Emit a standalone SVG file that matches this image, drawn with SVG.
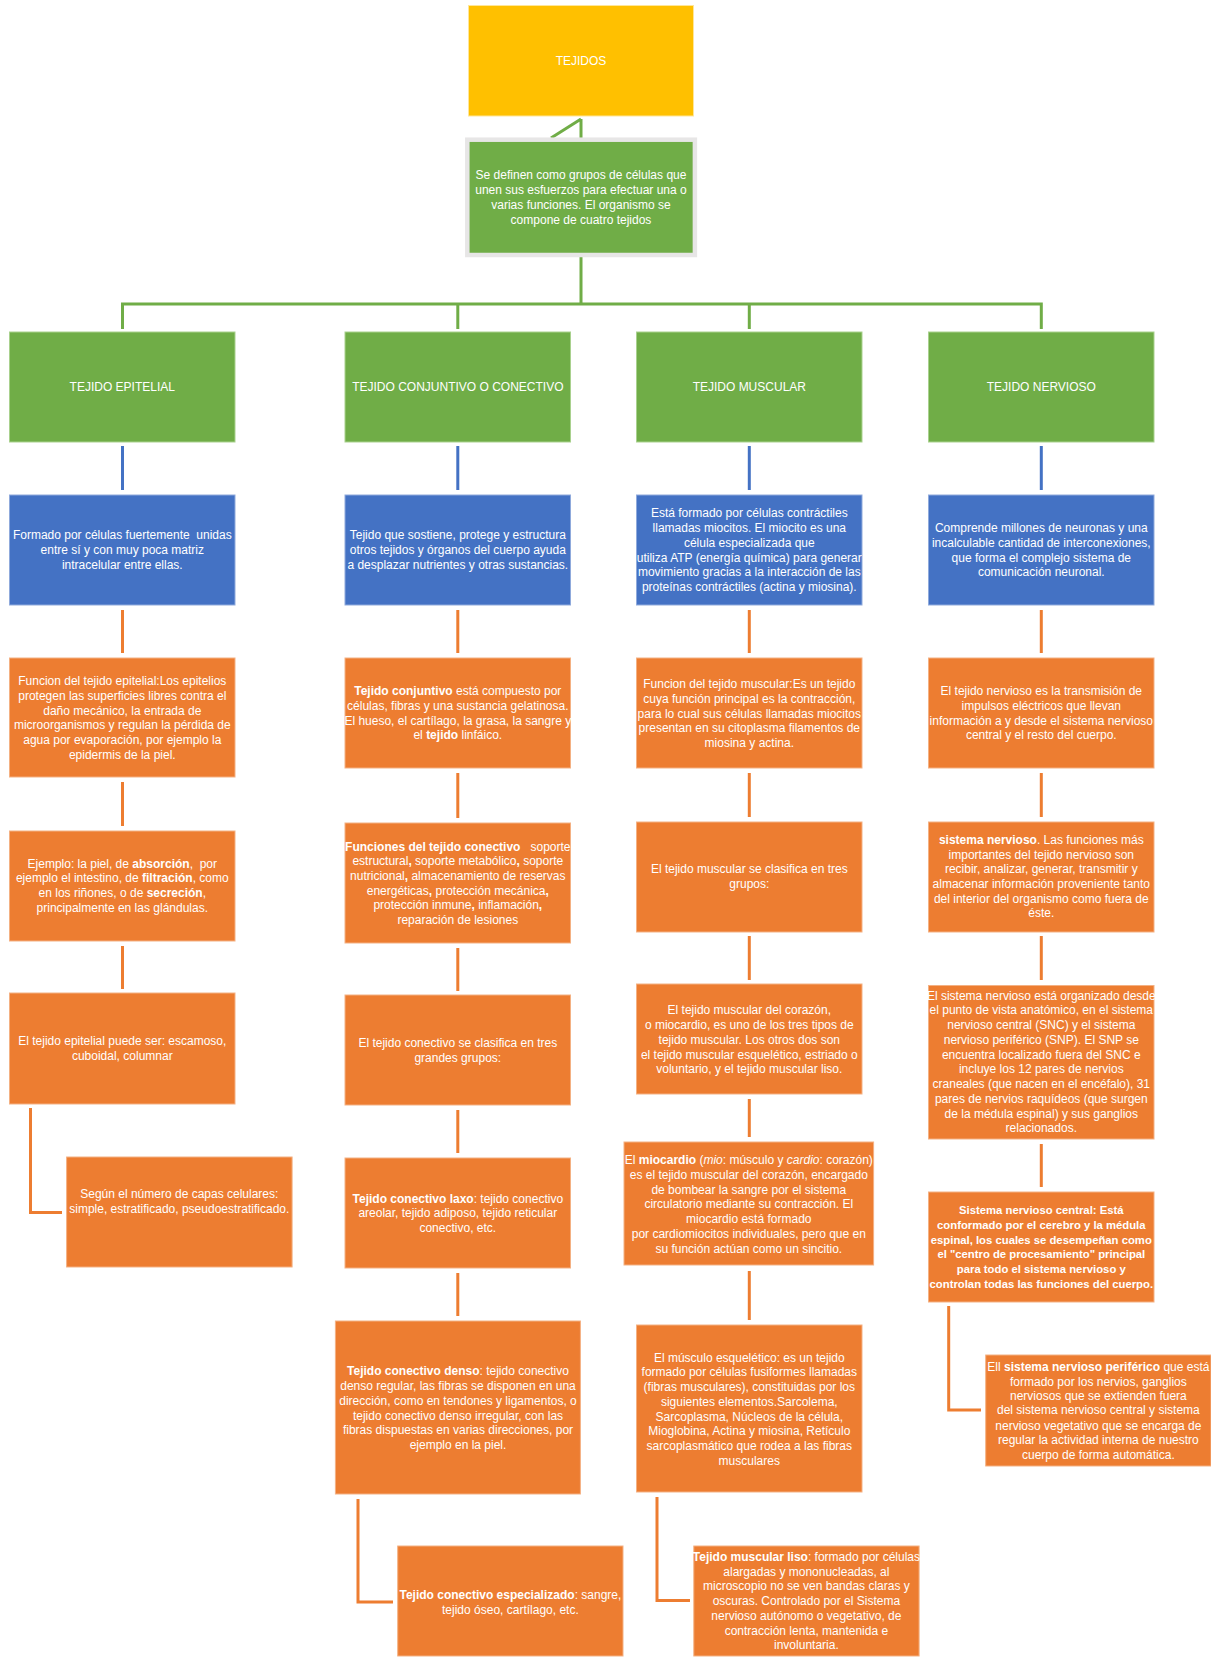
<svg xmlns="http://www.w3.org/2000/svg" width="1211" height="1658" viewBox="0 0 1211 1658">
<style>
.y{fill:#FFC000;stroke:#FFE699;stroke-width:1}
.g{fill:#70AD47;stroke:#A9D18E;stroke-width:1}
.b{fill:#4472C4;stroke:#8FAADC;stroke-width:1}
.o{fill:#ED7D31;stroke:#F4B183;stroke-width:1}
.t{fill:#FFFFFF;font-family:"Liberation Sans",Arial,sans-serif;font-size:12px;text-anchor:middle}
.cg{stroke:#70AD47;stroke-width:3;fill:none}
.cb{stroke:#4472C4;stroke-width:3;fill:none}
.co{stroke:#ED7D31;stroke-width:3;fill:none}
.bd{font-weight:bold}
.it{font-style:italic}
.sm{font-size:11.3px}
</style>
<rect width="1211" height="1658" fill="#FFFFFF"/>
<g id="connectors">
<path class="cg" d="M581 119 V140 M581 119 L551 138"/>
<path class="cg" d="M581 257 V304 M122.5 304 H1041.5 M122.5 302.5 V329 M457.8 302.5 V329 M749.3 302.5 V329 M1041.3 302.5 V329"/>
<path class="cb" d="M122.5 446 V490 M457.8 446 V490 M749.3 446 V490 M1041.3 446 V490"/>
<path class="co" d="M122.5 610 V653 M457.8 610 V653 M749.3 610 V653 M1041.3 610 V653"/>
<path class="co" d="M122.5 782 V826 M122.5 946 V989 M30.5 1108 V1212.5 H62"/>
<path class="co" d="M457.8 773 V818 M457.8 948 V991 M457.8 1110 V1153 M457.8 1273 V1316 M358 1499 V1602 H393"/>
<path class="co" d="M749.3 773 V817 M749.3 936 V980 M749.3 1099 V1137 M749.3 1271 V1320 M657 1497 V1600.5 H690"/>
<path class="co" d="M1041.3 773 V817 M1041.3 936 V980 M1041.3 1144 V1187 M948.7 1306 V1410 H981"/>
</g>
<g id="n-tejidos"><rect class="y" x="468.5" y="5.5" width="225" height="110.5"/><text class="t" x="581" y="64.5">TEJIDOS</text></g>
<g id="n-definicion"><rect x="467.3" y="139.7" width="227.6" height="115.3" fill="#70AD47" stroke="#E7E6E6" stroke-width="4.5"/>
<text class="t"><tspan x="581" y="179.4">Se definen como grupos de células que</tspan><tspan x="581" y="194.1">unen sus esfuerzos para efectuar una o</tspan><tspan x="581" y="208.8">varias funciones. El organismo se</tspan><tspan x="581" y="223.5">compone de cuatro tejidos</tspan></text></g>

<g id="n-epitelial"><rect class="g" x="9.5" y="332" width="225.5" height="110"/><text class="t" x="122.3" y="391">TEJIDO EPITELIAL</text></g>
<g id="n-conjuntivo"><rect class="g" x="345" y="332" width="225.5" height="110"/><text class="t" x="457.8" y="391">TEJIDO CONJUNTIVO O CONECTIVO</text></g>
<g id="n-muscular"><rect class="g" x="636.5" y="332" width="225.5" height="110"/><text class="t" x="749.3" y="391">TEJIDO MUSCULAR</text></g>
<g id="n-nervioso"><rect class="g" x="928.5" y="332" width="225.5" height="110"/><text class="t" x="1041.3" y="391">TEJIDO NERVIOSO</text></g>

<g id="n-epi-def"><rect class="b" x="9.5" y="495" width="225.5" height="110"/>
<text class="t"><tspan x="122.3" y="539.4">Formado por células fuertemente&#160; unidas</tspan><tspan x="122.3" y="554.4">entre sí y con muy poca matriz</tspan><tspan x="122.3" y="569.4">intracelular entre ellas.</tspan></text></g>
<g id="n-con-def"><rect class="b" x="345" y="495" width="225.5" height="110"/>
<text class="t"><tspan x="457.8" y="539.4">Tejido que sostiene, protege y estructura</tspan><tspan x="457.8" y="554.4">otros tejidos y órganos del cuerpo ayuda</tspan><tspan x="457.8" y="569.4">a desplazar nutrientes y otras sustancias.</tspan></text></g>
<g id="n-mus-def"><rect class="b" x="636.5" y="495" width="225.5" height="110"/>
<text class="t"><tspan x="749.3" y="517.1">Está formado por células contráctiles</tspan><tspan x="749.3" y="532">llamadas miocitos. El miocito es una</tspan><tspan x="749.3" y="546.9">célula especializada que</tspan><tspan x="749.3" y="561.8">utiliza ATP (energía química) para generar</tspan><tspan x="749.3" y="576.4">movimiento gracias a la interacción de las</tspan><tspan x="749.3" y="591.1">proteínas contráctiles (actina y miosina).</tspan></text></g>
<g id="n-ner-def"><rect class="b" x="928.5" y="495" width="225.5" height="110"/>
<text class="t"><tspan x="1041.3" y="532">Comprende millones de neuronas y una</tspan><tspan x="1041.3" y="546.9">incalculable cantidad de interconexiones,</tspan><tspan x="1041.3" y="561.8">que forma el complejo sistema de</tspan><tspan x="1041.3" y="576.4">comunicación neuronal.</tspan></text></g>

<g id="n-epi-funcion"><rect class="o" x="9.5" y="658" width="225.5" height="119"/>
<text class="t"><tspan x="122.3" y="685.1">Funcion del tejido epitelial:Los epitelios</tspan><tspan x="122.3" y="700.1">protegen las superficies libres contra el</tspan><tspan x="122.3" y="715.1">daño mecánico, la entrada de</tspan><tspan x="122.3" y="729.4">microorganismos y regulan la pérdida de</tspan><tspan x="122.3" y="744.4">agua por evaporación, por ejemplo la</tspan><tspan x="122.3" y="759.4">epidermis de la piel.</tspan></text></g>
<g id="n-con-compuesto"><rect class="o" x="345" y="658" width="225.5" height="110"/>
<text class="t"><tspan x="457.8" y="695.1"><tspan class="bd">Tejido conjuntivo</tspan> está compuesto por</tspan><tspan x="457.8" y="710.1">células, fibras y una sustancia gelatinosa.</tspan><tspan x="457.8" y="725.1">El hueso, el cartílago, la grasa, la sangre y</tspan><tspan x="457.8" y="739.4">el <tspan class="bd">tejido</tspan> linfáico.</tspan></text></g>
<g id="n-mus-funcion"><rect class="o" x="636.5" y="658" width="225.5" height="110"/>
<text class="t"><tspan x="749.3" y="687.7">Funcion del tejido muscular:Es un tejido</tspan><tspan x="749.3" y="702.9">cuya función principal es la contracción,</tspan><tspan x="749.3" y="717.7">para lo cual sus células llamadas miocitos</tspan><tspan x="749.3" y="732.4">presentan en su citoplasma filamentos de</tspan><tspan x="749.3" y="747.1">miosina y actina.</tspan></text></g>
<g id="n-ner-transmision"><rect class="o" x="928.5" y="658" width="225.5" height="110"/>
<text class="t"><tspan x="1041.3" y="695.1">El tejido nervioso es la transmisión de</tspan><tspan x="1041.3" y="710.1">impulsos eléctricos que llevan</tspan><tspan x="1041.3" y="725.1">información a y desde el sistema nervioso</tspan><tspan x="1041.3" y="739.4">central y el resto del cuerpo.</tspan></text></g>

<g id="n-epi-ejemplo"><rect class="o" x="9.5" y="831" width="225.5" height="110"/>
<text class="t"><tspan x="122.3" y="868.4">Ejemplo: la piel, de <tspan class="bd">absorción</tspan>,&#160; por</tspan><tspan x="122.3" y="882.4">ejemplo el intestino, de <tspan class="bd">filtración</tspan>, como</tspan><tspan x="122.3" y="897.4">en los riñones, o de <tspan class="bd">secreción</tspan>,</tspan><tspan x="122.3" y="912.1">principalmente en las glándulas.</tspan></text></g>
<g id="n-con-funciones"><rect class="o" x="345" y="823" width="225.5" height="120"/>
<text class="t"><tspan x="457.8" y="851.1"><tspan class="bd">Funciones del tejido conectivo</tspan>&#160;&#160; soporte</tspan><tspan x="457.8" y="865.1">estructural<tspan class="bd">,</tspan> soporte metabólico<tspan class="bd">,</tspan> soporte</tspan><tspan x="457.8" y="880.4">nutricional<tspan class="bd">,</tspan> almacenamiento de reservas</tspan><tspan x="457.8" y="895.1">energéticas<tspan class="bd">,</tspan> protección mecánica<tspan class="bd">,</tspan></tspan><tspan x="457.8" y="909.4">protección inmune<tspan class="bd">,</tspan> inflamación<tspan class="bd">,</tspan></tspan><tspan x="457.8" y="924.4">reparación de lesiones</tspan></text></g>
<g id="n-mus-clasifica"><rect class="o" x="636.5" y="822" width="225.5" height="110"/>
<text class="t"><tspan x="749.3" y="873.1">El tejido muscular se clasifica en tres</tspan><tspan x="749.3" y="888.4">grupos:</tspan></text></g>
<g id="n-ner-funciones"><rect class="o" x="928.5" y="822" width="225.5" height="110"/>
<text class="t"><tspan x="1041.3" y="844.4"><tspan class="bd">sistema nervioso</tspan>. Las funciones más</tspan><tspan x="1041.3" y="858.7">importantes del tejido nervioso son</tspan><tspan x="1041.3" y="873.1">recibir, analizar, generar, transmitir y</tspan><tspan x="1041.3" y="888.1">almacenar información proveniente tanto</tspan><tspan x="1041.3" y="903.1">del interior del organismo como fuera de</tspan><tspan x="1041.3" y="917.4">éste.</tspan></text></g>

<g id="n-epi-tipos"><rect class="o" x="9.5" y="993" width="225.5" height="111"/>
<text class="t"><tspan x="122.3" y="1045.4">El tejido epitelial puede ser: escamoso,</tspan><tspan x="122.3" y="1060.1">cuboidal, columnar</tspan></text></g>
<g id="n-con-clasifica"><rect class="o" x="345" y="995" width="225.5" height="110"/>
<text class="t"><tspan x="457.8" y="1047.1">El tejido conectivo se clasifica en tres</tspan><tspan x="457.8" y="1062.1">grandes grupos:</tspan></text></g>
<g id="n-mus-corazon"><rect class="o" x="636.5" y="984" width="225.5" height="110"/>
<text class="t"><tspan x="749.3" y="1014.4">El tejido muscular del corazón,</tspan><tspan x="749.3" y="1029.4">o miocardio, es uno de los tres tipos de</tspan><tspan x="749.3" y="1044.4">tejido muscular. Los otros dos son</tspan><tspan x="749.3" y="1059.4">el tejido muscular esquelético, estriado o</tspan><tspan x="749.3" y="1073.4">voluntario, y el tejido muscular liso.</tspan></text></g>
<g id="n-ner-organizado"><rect class="o" x="928.5" y="985.5" width="225.5" height="153.5"/>
<text class="t"><tspan x="1041.3" y="1000.4">El sistema nervioso está organizado desde</tspan><tspan x="1041.3" y="1014.4">el punto de vista anatómico, en el sistema</tspan><tspan x="1041.3" y="1029.4">nervioso central (SNC) y el sistema</tspan><tspan x="1041.3" y="1044.4">nervioso periférico (SNP). El SNP se</tspan><tspan x="1041.3" y="1059.4">encuentra localizado fuera del SNC e</tspan><tspan x="1041.3" y="1073.4">incluye los 12 pares de nervios</tspan><tspan x="1041.3" y="1088.1">craneales (que nacen en el encéfalo), 31</tspan><tspan x="1041.3" y="1103.1">pares de nervios raquídeos (que surgen</tspan><tspan x="1041.3" y="1117.7">de la médula espinal) y sus ganglios</tspan><tspan x="1041.3" y="1132.4">relacionados.</tspan></text></g>

<g id="n-epi-capas"><rect class="o" x="66.6" y="1157" width="225.5" height="110"/>
<text class="t"><tspan x="179.3" y="1198">Según el número de capas celulares:</tspan><tspan x="179.3" y="1213.3">simple, estratificado, pseudoestratificado.</tspan></text></g>
<g id="n-con-laxo"><rect class="o" x="345" y="1158" width="225.5" height="110"/>
<text class="t"><tspan x="457.8" y="1203.4"><tspan class="bd">Tejido conectivo laxo</tspan>: tejido conectivo</tspan><tspan x="457.8" y="1217.4">areolar, tejido adiposo, tejido reticular</tspan><tspan x="457.8" y="1231.8">conectivo, etc.</tspan></text></g>
<g id="n-mus-miocardio"><rect class="o" x="624" y="1142" width="249.6" height="123"/>
<text class="t"><tspan x="748.8" y="1164.2">El <tspan class="bd">miocardio</tspan> (<tspan class="it">mio</tspan>: músculo y <tspan class="it">cardio</tspan>: corazón)</tspan><tspan x="748.8" y="1179.1">es el tejido muscular del corazón, encargado</tspan><tspan x="748.8" y="1194.1">de bombear la sangre por el sistema</tspan><tspan x="748.8" y="1208.3">circulatorio mediante su contracción. El</tspan><tspan x="748.8" y="1223.3">miocardio está formado</tspan><tspan x="748.8" y="1238.2">por cardiomiocitos individuales, pero que en</tspan><tspan x="748.8" y="1253.2">su función actúan como un sincitio.</tspan></text></g>
<g id="n-ner-central"><rect class="o" x="928.5" y="1192" width="225.5" height="110"/>
<text class="t bd sm"><tspan x="1041.3" y="1214">Sistema nervioso central: Está</tspan><tspan x="1041.3" y="1229">conformado por el cerebro y la médula</tspan><tspan x="1041.3" y="1244.3">espinal, los cuales se desempeñan como</tspan><tspan x="1041.3" y="1258.4">el "centro de procesamiento" principal</tspan><tspan x="1041.3" y="1273.4">para todo el sistema nervioso y</tspan><tspan x="1041.3" y="1288.4">controlan todas las funciones del cuerpo.</tspan></text></g>

<g id="n-con-denso"><rect class="o" x="335.4" y="1321" width="245" height="173"/>
<text class="t"><tspan x="458" y="1375.4"><tspan class="bd">Tejido conectivo denso</tspan>: tejido conectivo</tspan><tspan x="458" y="1390.2">denso regular, las fibras se disponen en una</tspan><tspan x="458" y="1405.1">dirección, como en tendones y ligamentos, o</tspan><tspan x="458" y="1420.4">tejido conectivo denso irregular, con las</tspan><tspan x="458" y="1434.4">fibras dispuestas en varias direcciones, por</tspan><tspan x="458" y="1449.2">ejemplo en la piel.</tspan></text></g>
<g id="n-mus-esqueletico"><rect class="o" x="636.5" y="1325" width="225.5" height="167"/>
<text class="t"><tspan x="749.3" y="1362.1">El músculo esquelético: es un tejido</tspan><tspan x="749.3" y="1376.3">formado por células fusiformes llamadas</tspan><tspan x="749.3" y="1391.2">(fibras musculares), constituidas por los</tspan><tspan x="749.3" y="1406.2">siguientes elementos.Sarcolema,</tspan><tspan x="749.3" y="1421.1">Sarcoplasma, Núcleos de la célula,</tspan><tspan x="749.3" y="1435.4">Mioglobina, Actina y miosina, Retículo</tspan><tspan x="749.3" y="1450.4">sarcoplasmático que rodea a las fibras</tspan><tspan x="749.3" y="1465.3">musculares</tspan></text></g>
<g id="n-ner-periferico"><rect class="o" x="985.7" y="1355" width="225.3" height="111"/>
<text class="t"><tspan x="1098.4" y="1370.6">Ell <tspan class="bd">sistema nervioso periférico</tspan> que está</tspan><tspan x="1098.4" y="1385.5">formado por los nervios, ganglios</tspan><tspan x="1098.4" y="1400.1">nerviosos que se extienden fuera</tspan><tspan x="1098.4" y="1414.4">del sistema nervioso central y sistema</tspan><tspan x="1098.4" y="1429.7">nervioso vegetativo que se encarga de</tspan><tspan x="1098.4" y="1444.3">regular la actividad interna de nuestro</tspan><tspan x="1098.4" y="1459.2">cuerpo de forma automática.</tspan></text></g>

<g id="n-con-especializado"><rect class="o" x="397.7" y="1546" width="225.3" height="110"/>
<text class="t"><tspan x="510.4" y="1599.1"><tspan class="bd">Tejido conectivo especializado</tspan>: sangre,</tspan><tspan x="510.4" y="1614.4">tejido óseo, cartílago, etc.</tspan></text></g>
<g id="n-mus-liso"><rect class="o" x="693.8" y="1546" width="225.3" height="110"/>
<text class="t"><tspan x="806.4" y="1561"><tspan class="bd">Tejido muscular liso</tspan>: formado por células</tspan><tspan x="806.4" y="1576.3">alargadas y mononucleadas, al</tspan><tspan x="806.4" y="1590.4">microscopio no se ven bandas claras y</tspan><tspan x="806.4" y="1605.4">oscuras. Controlado por el Sistema</tspan><tspan x="806.4" y="1620.4">nervioso autónomo o vegetativo, de</tspan><tspan x="806.4" y="1635.4">contracción lenta, mantenida e</tspan><tspan x="806.4" y="1648.9">involuntaria.</tspan></text></g>
</svg>
